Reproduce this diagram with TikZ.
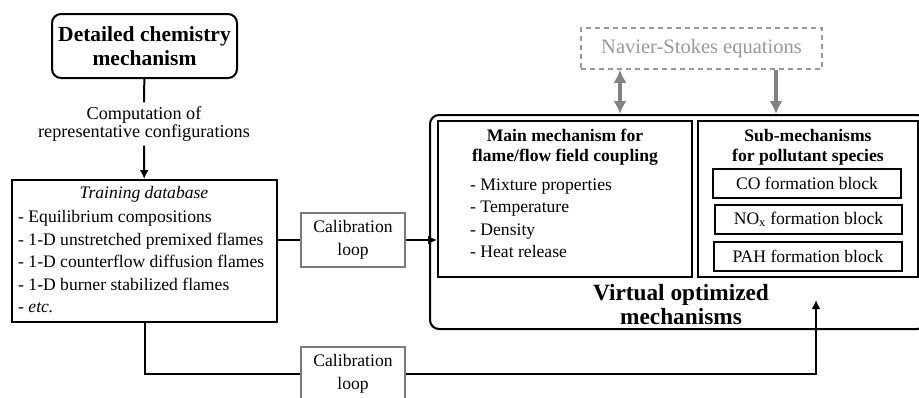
\documentclass[tikz,border=0pt]{standalone}
\usepackage{fontspec}
\setmainfont{Liberation Serif}
\usetikzlibrary{arrows.meta,positioning}

\definecolor{loopgray}{HTML}{7A7A7A}
\definecolor{nsgray}{HTML}{999999}

\tikzset{
  txt/.style={font=\fontsize{17.6}{22.5}\selectfont},
  bigtitle/.style={font=\fontsize{21.5}{24}\selectfont\bfseries, align=center},
  subtitle/.style={font=\fontsize{17.6}{20}\selectfont\bfseries, align=center},
  box/.style={draw, line width=2pt, inner sep=0pt},
  loopbox/.style={draw=loopgray, line width=2pt, inner sep=0pt, txt, align=center,
    minimum width=104, minimum height=54},
  blockbox/.style={draw, line width=2pt, inner sep=0pt, txt, minimum height=29},
  conn/.style={line width=2pt},
  arr/.style={conn, -{Latex[length=9,width=9]}},
  nsarr/.style={line width=3.5pt, draw=nsgray!85!black},
}

\begin{document}
\begin{tikzpicture}[x=1pt,y=-1pt]
\useasboundingbox (0,0) rectangle (919,397);

% Detailed mechanism and training data
\node[box, rounded corners=9, minimum width=185, minimum height=64, bigtitle] (detailed) at (144.5,46)
  {Detailed chemistry\\mechanism};
\node[txt, align=center, font=\fontsize{18.2}{18}\selectfont, inner sep=4pt] (comp) at (144,124)
  {Computation of\\representative configurations};
\node[box, minimum width=265, minimum height=142] (train) at (144.5,251) {};
\node[txt] (traintitle) at (144,194) {\itshape Training database};
\node[txt, align=left, anchor=west, inner sep=0pt] (trainlist) at (18,262)
  {- Equilibrium compositions\\- 1-D unstretched premixed flames\\- 1-D counterflow diffusion flames\\- 1-D burner stabilized flames\\- \textit{etc.}};

\draw[conn] (detailed) -- (comp);
\draw[arr] (comp) -- (train);

% Virtual mechanism
\node[box, rounded corners=9, minimum width=496, minimum height=214] (virtual) at (678,222) {};
\node[box, minimum width=254, minimum height=156] (main) at (565,199) {};
\node[box, minimum width=220, minimum height=156] (sub) at (808,199) {};
\node[bigtitle, font=\fontsize{23.3}{24}\selectfont\bfseries] (vtitle) at (681,305) {Virtual optimized\\mechanisms};

\node[subtitle] (maintitle) at (565,147) {Main mechanism for\\flame/flow field coupling};
\node[txt, align=left, anchor=west, inner sep=0pt] (mainlist) at (470,218.5)
  {- Mixture properties\\- Temperature\\- Density\\- Heat release};

\node[subtitle] (subtitle) at (808,147) {Sub-mechanisms\\for pollutant species};
\node[blockbox, minimum width=188] (co) at (807,183.5) {CO formation block};
\node[blockbox, minimum width=187] (nox) at (808.5,219.5) {NO\textsubscript{x} formation block};
\node[blockbox, minimum width=188] (pah) at (808,256) {PAH formation block};

% Flow solver
\node[draw=nsgray, dashed, dash pattern=on 5pt off 4pt, line width=1.5pt, text=nsgray,
  font=\fontsize{20.5}{24}\selectfont, minimum width=241, minimum height=41, inner sep=0pt] (ns) at (701.5,48.5)
  {Navier-Stokes equations};
\draw[nsarr, {Latex[length=13,width=13]}-{Latex[length=13,width=13]}] (620,0 |- ns.south) -- (620,0 |- virtual.north);
\draw[nsarr, -{Latex[length=13,width=13]}] (776,0 |- ns.south) -- (776,0 |- virtual.north);

% Calibration loops
\node[loopbox] (calib1) at (353,240) {Calibration\\loop};
\node[loopbox] (calib2) at (353,374) {Calibration\\loop};
\coordinate (vtip) at (816,300);

\draw[conn] (train.east |- calib1.west) -- (calib1.west);
\draw[arr] (calib1.east) -- (calib1.east -| main.west);
\draw[conn] (train.south) |- (calib2.west);
\draw[arr] (calib2.east) -| (vtip);

\end{tikzpicture}
\end{document}
